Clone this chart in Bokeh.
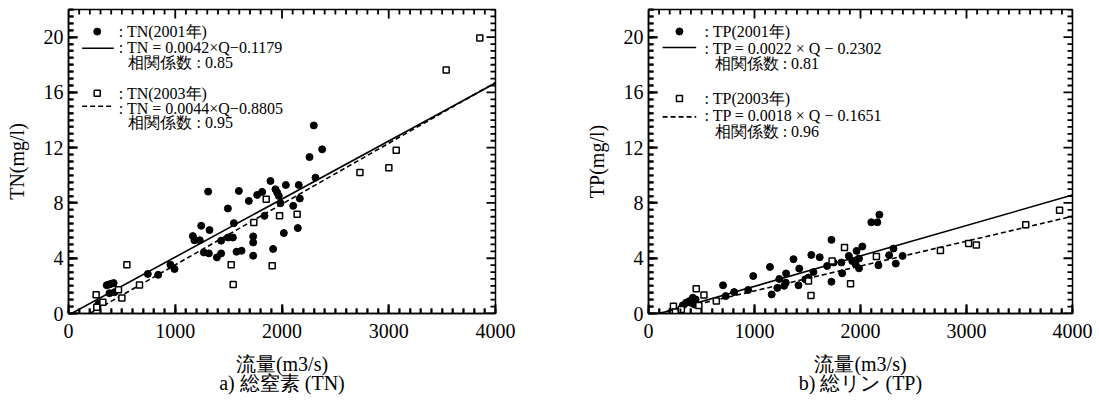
import numpy as np
from bokeh.plotting import figure
from bokeh.layouts import row
from bokeh.models import Range1d, SingleIntervalTicker, Label
from bokeh.embed import file_html
from bokeh.resources import INLINE

# ---------------- data ----------------
tn_q01 = [281, 358, 380, 400, 423, 384, 431, 743, 840, 955, 993, 1165, 1180, 1230, 1243, 1268,
          1308, 1315, 1321, 1390, 1430, 1430, 1493, 1493, 1540, 1549, 1574, 1596, 1621, 1689,
          1730, 1730, 1730, 1767, 1814, 1836, 1892, 1917, 1939, 1955, 1970, 1986, 2017, 2036,
          2105, 2148, 2157, 2167, 2258, 2298, 2314, 2376]
tn_v01 = [0.70, 2.05, 2.10, 2.15, 2.20, 1.47, 1.54, 2.86, 2.80, 3.53, 3.22, 5.60, 5.30, 5.30,
          6.35, 4.42, 8.82, 4.35, 6.04, 4.06, 5.27, 4.35, 7.60, 5.50, 5.50, 6.54, 4.47, 8.87,
          4.54, 8.15, 5.58, 5.14, 4.18, 8.58, 8.80, 7.07, 9.59, 4.67, 8.99, 8.75, 8.51, 7.98,
          5.82, 9.30, 7.79, 6.18, 9.30, 8.32, 11.32, 13.61, 9.83, 11.88]
tn_q03 = [259, 265, 322, 468, 500, 547, 665, 1524, 1543, 1736, 1852, 1908, 1977, 2142, 2730,
          3001, 3070, 3538, 3853]
tn_v03 = [1.35, 0.46, 0.82, 1.71, 1.13, 3.53, 2.07, 3.53, 2.10, 6.59, 8.27, 3.46, 7.07, 7.19,
          10.20, 10.55, 11.81, 17.62, 19.93]

tp_q01 = [323, 354, 386, 418, 434, 445, 703, 728, 808, 940, 988, 1146, 1162, 1215, 1234, 1280,
          1295, 1298, 1368, 1415, 1422, 1479, 1509, 1536, 1556, 1615, 1685, 1726, 1726, 1747,
          1820, 1827, 1890, 1922, 1954, 1963, 1986, 1986, 2017, 2102, 2159, 2169, 2178, 2270,
          2311, 2333, 2397]
tp_v01 = [0.58, 0.78, 0.90, 1.14, 0.65, 1.02, 2.04, 1.26, 1.55, 1.70, 2.71, 3.37, 1.38, 1.85,
          2.50, 2.00, 2.23, 2.90, 3.93, 2.04, 3.25, 2.47, 2.60, 4.24, 3.00, 4.07, 3.44, 5.33,
          2.30, 3.69, 3.69, 2.91, 4.17, 3.80, 3.56, 4.53, 3.98, 3.27, 4.85, 6.60, 6.60, 3.49,
          7.15, 4.22, 4.70, 3.61, 4.17]
tp_q03 = [235, 253, 310, 450, 475, 523, 640, 1509, 1533, 1732, 1849, 1906, 2150, 2754, 3020,
          3093, 3559, 3878]
tp_v03 = [0.53, 0.10, 0.29, 1.80, 0.58, 1.33, 0.90, 2.35, 1.31, 3.80, 4.78, 2.16, 4.12, 4.56,
          5.07, 4.95, 6.42, 7.47]

# regression coefficients (slope, intercept)
tn_fit01 = (0.0042, -0.1179)
tn_fit03 = (0.0044, -0.8805)
tp_fit01 = (0.0022, -0.2302)
tp_fit03 = (0.0018, -0.1651)

x_label = "流量(m3/s)"
captions = ["a) 総窒素 (TN)", "b) 総リン (TP)"]
tn_texts = [": TN(2001年)", ": TN = 0.0042×Q−0.1179", "相関係数 : 0.85",
            ": TN(2003年)", ": TN = 0.0044×Q−0.8805", "相関係数 : 0.95"]
tp_texts = [": TP(2001年)", ": TP = 0.0022 × Q − 0.2302", "相関係数 : 0.81",
            ": TP(2003年)", ": TP = 0.0018 × Q − 0.1651", "相関係数 : 0.96"]

FONT = "Liberation Serif"
XMAX = 4000
YMAX = 22
X_MAJOR, X_MINOR = 1000, 100
Y_MAJOR, Y_MINOR = 4, 0.5
FRAME_H = 304  # px


def fit_line(fit):
    a, b = fit
    x0 = max(0.0, -b / a)
    return [x0, XMAX], [a * x0 + b, a * XMAX + b]


def frame_ticks(p, frame_w):
    """Inward ticks on all four sides of the frame."""
    xs = np.arange(0, XMAX + 1, X_MINOR)
    ys = np.arange(0, YMAX + 0.01, Y_MINOR)
    dx = XMAX / frame_w      # data units per px (x)
    dy = YMAX / FRAME_H      # data units per px (y)
    x0, x1, y0, y1 = [], [], [], []
    for x in xs:
        L = (9 if x % X_MAJOR == 0 else 5) * dy
        x0 += [x, x]; x1 += [x, x]
        y0 += [0, YMAX]; y1 += [L, YMAX - L]
    for y in ys:
        major = abs(y / Y_MAJOR - round(y / Y_MAJOR)) < 1e-9
        L = (9 if major else 5) * dx
        x0 += [0, XMAX]; x1 += [L, XMAX - L]
        y0 += [y, y]; y1 += [y, y]
    p.segment(x0=x0, y0=y0, x1=x1, y1=y1, line_color="black", line_width=1.8)


def make_fig(width, left_border, right_border, ylabel, caption,
             q01, v01, q03, v03, fit01, fit03, texts, leg):
    p = figure(width=width, height=404, output_backend="svg", toolbar_location=None,
               x_range=Range1d(0, XMAX), y_range=Range1d(0, YMAX),
               min_border_left=left_border, min_border_right=right_border,
               min_border_top=9, min_border_bottom=404 - 9 - FRAME_H,
               x_axis_label=x_label + "\n" + caption, y_axis_label=ylabel)
    p.grid.visible = False
    p.outline_line_color = "black"
    p.outline_line_width = 1.5

    p.xaxis.ticker = SingleIntervalTicker(interval=X_MAJOR, num_minor_ticks=10)
    p.yaxis.ticker = SingleIntervalTicker(interval=Y_MAJOR, num_minor_ticks=8)

    for ax in (p.xaxis[0], p.yaxis[0]):
        ax.major_tick_in = 9
        ax.major_tick_out = 0
        ax.minor_tick_in = 5
        ax.minor_tick_out = 0
        ax.major_tick_line_width = 1.8
        ax.minor_tick_line_width = 1.8
        ax.major_tick_line_color = "black"
        ax.minor_tick_line_color = "black"
        ax.axis_line_color = "black"
        ax.axis_line_width = 1.5
        ax.major_label_text_font = FONT
        ax.major_label_text_font_size = "20px"
        ax.major_label_text_color = "black"
        ax.axis_label_text_font = FONT
        ax.axis_label_text_font_size = "20px"
        ax.axis_label_text_font_style = "normal"
        ax.axis_label_text_color = "black"
    p.xaxis.major_label_standoff = 10
    p.xaxis.axis_label_standoff = 12
    p.xaxis.axis_label_text_line_height = 0.9
    p.yaxis.major_label_standoff = 5
    p.yaxis.axis_label_standoff = 13

    frame_w = width - left_border - right_border
    frame_ticks(p, frame_w)

    # fitted lines
    lx, ly = fit_line(fit01)
    p.line(lx, ly, line_color="black", line_width=1.6)
    lx, ly = fit_line(fit03)
    p.line(lx, ly, line_color="black", line_width=1.6, line_dash="5 3")

    # data
    p.scatter(q01, v01, marker="circle", size=7, fill_color="black", line_color="black")
    p.scatter(q03, v03, marker="square", size=6, fill_color="white", line_color="black",
              line_width=1.5)

    # legend (drawn manually)
    mx, tx, tx2, ys, l1, l2, lxs = leg
    p.scatter([mx], [ys[0]], marker="circle", size=7, fill_color="black", line_color="black")
    p.line(lxs, [l1, l1], line_color="black", line_width=1.6)
    p.scatter([mx], [ys[3]], marker="square", size=6, fill_color="white", line_color="black",
              line_width=1.5)
    p.line(lxs, [l2, l2], line_color="black", line_width=1.6, line_dash="5 3")
    for i, t in enumerate(texts):
        x = tx2 if i in (2, 5) else tx
        p.add_layout(Label(x=x, y=ys[i], text=t, text_font=FONT, text_font_size="16px",
                           text_baseline="middle", text_color="black"))
    return p


p1 = make_fig(540, 68, 45, "TN(mg/l)", captions[0],
              tn_q01, tn_v01, tn_q03, tn_v03, tn_fit01, tn_fit03, tn_texts,
              (269, 471, 562, [20.40, 19.26, 18.18, 15.94, 14.86, 13.85], 19.2, 15.0, [128, 424]))
p2 = make_fig(559, 108, 27, "TP(mg/l)", captions[1],
              tp_q01, tp_v01, tp_q03, tp_v03, tp_fit01, tp_fit03, tp_texts,
              (292, 529, 624, [20.41, 19.2, 18.1, 15.56, 14.35, 13.14], 19.25, 14.23, [133, 450]))

layout = row(p1, p2)
open("out.html", "w").write(file_html(layout, INLINE))
